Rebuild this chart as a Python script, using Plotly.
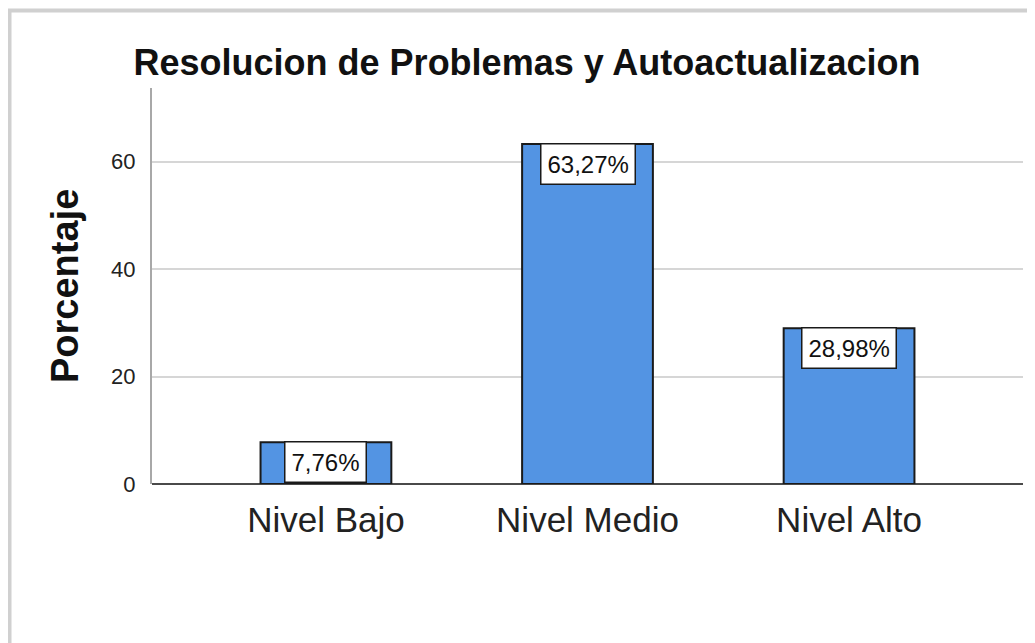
import plotly.graph_objects as go

categories = ["Nivel Bajo", "Nivel Medio", "Nivel Alto"]
percentages = [7.76, 63.27, 28.98]
value_labels = ["7,76%", "63,27%", "28,98%"]
y_ticks = [0, 20, 40, 60]

# page body adds an 8px offset; compensate
OFF = 8
W, H = 1035 - OFF, 643 - OFF
L, R, T = 152 - OFF, 12, 88 - OFF
B = H - (484 - OFF)
pw = W - L - R
ph = H - T - B

FONT = "Liberation Sans, Arial"

fig = go.Figure()
fig.add_trace(go.Bar(
    x=categories, y=percentages, width=0.5,
    marker=dict(color="#5394E3", line=dict(color="#1a1a1a", width=2)),
    hoverinfo="skip",
))

for c, v, t in zip(categories, percentages, value_labels):
    fig.add_annotation(
        x=c, y=v, text=t, showarrow=False, yanchor="top", xanchor="center", yshift=1,
        font=dict(family=FONT, size=24, color="#111"),
        bgcolor="white", bordercolor="#1a1a1a", borderwidth=1.5, borderpad=6,
    )

fig.add_annotation(
    text="<b>Porcentaje</b>", textangle=-90, showarrow=False,
    xref="paper", yref="paper", x=(65 - OFF - L) / pw, y=0.5,
    xanchor="center", yanchor="middle",
    font=dict(family=FONT, size=38, color="#111"),
)

# outer frame (left and top edges)
xl = (9.5 - OFF - L) / pw
yt = (H - B - (10.5 - OFF)) / ph
fig.add_shape(type="path", xref="paper", yref="paper",
              path=f"M {xl},-1 L {xl},{yt} L 1.1,{yt}",
              line=dict(color="#D0D0D0", width=4), layer="above")

fig.update_layout(
    width=W, height=H,
    margin=dict(l=L, r=R, t=T, b=B, pad=0),
    paper_bgcolor="white", plot_bgcolor="white",
    showlegend=False,
    title=dict(text="<b>Resolucion de Problemas y Autoactualizacion</b>",
               xref="container", yref="container", x=(527 - OFF) / W, y=1 - (62 - OFF) / H,
               xanchor="center", yanchor="middle",
               font=dict(family=FONT, size=36, color="#111")),
    bargap=0.5,
)
fig.update_xaxes(
    range=[-0.665, 2.665], showgrid=False, showline=False, ticks="",
    tickfont=dict(family=FONT, size=35, color="#222"),
    ticklabelstandoff=12,
)
fig.update_yaxes(
    range=[0, 73.7], tickvals=y_ticks, ticktext=[str(v) for v in y_ticks],
    showgrid=True, gridcolor="#D6D6D6", gridwidth=2,
    showline=True, linecolor="#A8A8A8", linewidth=2,
    zeroline=True, zerolinecolor="#4a4a4a", zerolinewidth=1.5,
    ticks="", ticklabelstandoff=10,
    tickfont=dict(family=FONT, size=22, color="#222"),
)

fig.write_html("out.html")
